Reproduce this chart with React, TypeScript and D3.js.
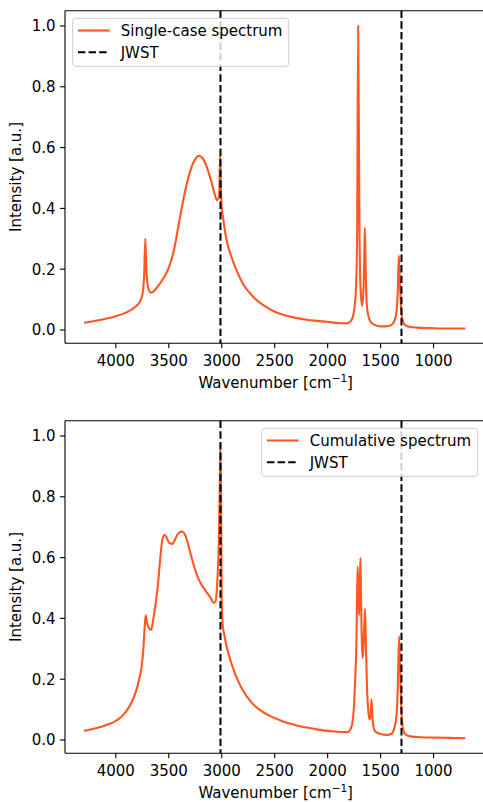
import React from 'react';
import * as d3 from 'd3';

// [wavenumber, intensity]
const singleSpectrum: [number, number][] = [
  [4300, 0.024], [4150, 0.033], [4000, 0.045], [3900, 0.058], [3820, 0.075], [3770, 0.095],
  [3745, 0.125], [3732, 0.185], [3722, 0.300], [3712, 0.200], [3695, 0.140], [3670, 0.123],
  [3640, 0.128], [3600, 0.145], [3550, 0.170], [3500, 0.205], [3450, 0.265], [3400, 0.360],
  [3350, 0.450], [3300, 0.520], [3250, 0.562], [3215, 0.573], [3180, 0.565], [3140, 0.535],
  [3100, 0.490], [3065, 0.445], [3045, 0.427], [3025, 0.440], [3015, 0.575], [3008, 0.470],
  [3000, 0.400], [2990, 0.375], [2960, 0.305], [2900, 0.232], [2850, 0.188], [2800, 0.152],
  [2700, 0.108], [2600, 0.080], [2500, 0.060], [2400, 0.048], [2300, 0.040], [2200, 0.034],
  [2100, 0.030], [2000, 0.027], [1900, 0.023], [1820, 0.022], [1780, 0.030], [1755, 0.055],
  [1735, 0.120], [1722, 0.300], [1712, 1.000], [1700, 0.350], [1690, 0.140], [1675, 0.080],
  [1665, 0.110], [1655, 0.220], [1649, 0.336], [1642, 0.220], [1632, 0.090], [1615, 0.045],
  [1590, 0.025], [1550, 0.016], [1500, 0.012], [1450, 0.012], [1400, 0.016], [1370, 0.030],
  [1350, 0.060], [1338, 0.130], [1328, 0.245], [1318, 0.160], [1305, 0.060], [1290, 0.030],
  [1270, 0.017], [1220, 0.010], [1150, 0.008], [1000, 0.006], [850, 0.005], [700, 0.005],
];

const cumulativeSpectrum: [number, number][] = [
  [4300, 0.030], [4200, 0.038], [4100, 0.048], [4000, 0.063], [3950, 0.076], [3900, 0.095],
  [3850, 0.125], [3810, 0.160], [3780, 0.200], [3755, 0.245], [3740, 0.300], [3728, 0.370],
  [3718, 0.410], [3705, 0.385], [3690, 0.370], [3668, 0.362], [3645, 0.400], [3620, 0.460],
  [3600, 0.520], [3580, 0.600], [3560, 0.660], [3540, 0.675], [3520, 0.665], [3495, 0.648],
  [3465, 0.645], [3440, 0.660], [3410, 0.680], [3375, 0.686], [3340, 0.670], [3300, 0.620],
  [3260, 0.570], [3220, 0.530], [3180, 0.505], [3140, 0.485], [3100, 0.465], [3078, 0.451],
  [3060, 0.455], [3042, 0.520], [3028, 0.650], [3018, 0.850], [3012, 0.975], [3006, 0.800],
  [3000, 0.450], [2990, 0.375], [2975, 0.345], [2962, 0.320], [2900, 0.243], [2850, 0.198],
  [2800, 0.163], [2730, 0.128], [2645, 0.100], [2550, 0.080], [2450, 0.065], [2360, 0.054],
  [2280, 0.047], [2200, 0.041], [2100, 0.035], [2000, 0.030], [1900, 0.027], [1810, 0.026],
  [1785, 0.035], [1765, 0.060], [1750, 0.120], [1740, 0.200], [1728, 0.330], [1718, 0.571],
  [1710, 0.480], [1703, 0.410], [1696, 0.520], [1690, 0.599], [1684, 0.450], [1675, 0.300],
  [1668, 0.270], [1658, 0.340], [1647, 0.431], [1638, 0.300], [1628, 0.170], [1615, 0.090],
  [1605, 0.068], [1595, 0.080], [1586, 0.134], [1578, 0.080], [1568, 0.045], [1550, 0.028],
  [1500, 0.020], [1440, 0.017], [1400, 0.020], [1370, 0.040], [1350, 0.080], [1338, 0.170],
  [1325, 0.341], [1315, 0.230], [1303, 0.090], [1290, 0.040], [1270, 0.020], [1220, 0.012],
  [1150, 0.010], [1000, 0.008], [850, 0.007], [700, 0.006],
];

const jwstLines = [3012, 1303];
const xTicks = [4000, 3500, 3000, 2500, 2000, 1500, 1000];
const yTicks = [0, 0.2, 0.4, 0.6, 0.8, 1.0];

const ORANGE = '#ff5722';
const FONT = 'DejaVu Sans, sans-serif';

function Panel({ data, top, label, legendLeft }: {
  data: [number, number][]; top: number; label: string; legendLeft: boolean;
}) {
  const left = 65;
  const right = 484.4;
  const bottom = top + 332.6;

  const x = d3.scaleLinear().domain([4480, 520]).range([left, right]);
  const y = d3.scaleLinear().domain([-0.0437, 1.0503]).range([bottom, top]);

  const line = d3.line<[number, number]>()
    .x(d => x(d[0]))
    .y(d => y(d[1]))
    .curve(d3.curveMonotoneX);

  const lx = legendLeft ? 72.7 : 261.7;
  const lw = 216;
  const ly = top + 7.6;

  return (
    <g fontFamily={FONT} fontSize={15} fill="#000">
      <path d={line(data) ?? ''} fill="none" stroke={ORANGE} strokeWidth={2.1} />
      {jwstLines.map(v => (
        <line key={v} x1={x(v)} x2={x(v)} y1={top} y2={bottom}
          stroke="#000" strokeWidth={2} strokeDasharray="7.4,3.2" />
      ))}
      {/* spines */}
      <line x1={left} x2={left} y1={top} y2={bottom} stroke="#000" strokeWidth={1.1} />
      <line x1={left} x2={right} y1={bottom} y2={bottom} stroke="#000" strokeWidth={1.1} />
      <line x1={left} x2={right} y1={top} y2={top} stroke="#000" strokeWidth={1.1} />
      <line x1={right} x2={right} y1={top} y2={bottom} stroke="#000" strokeWidth={1.1} />
      {xTicks.map(t => (
        <g key={t}>
          <line x1={x(t)} x2={x(t)} y1={bottom} y2={bottom + 5} stroke="#000" strokeWidth={1.1} />
          <text x={x(t)} y={bottom + 22.7} textAnchor="middle">{t}</text>
        </g>
      ))}
      {yTicks.map(t => (
        <g key={t}>
          <line x1={left - 5} x2={left} y1={y(t)} y2={y(t)} stroke="#000" strokeWidth={1.1} />
          <text x={left - 9.5} y={y(t) + 5.4} textAnchor="end">{t.toFixed(1)}</text>
        </g>
      ))}
      <text x={x(2500) + 1} y={bottom + 45} textAnchor="middle">
        Wavenumber [cm<tspan dy={-6} fontSize={10.5}>−1</tspan><tspan dy={6}>]</tspan>
      </text>
      <text transform={`translate(21,${(top + bottom) / 2}) rotate(-90)`} textAnchor="middle">
        Intensity [a.u.]
      </text>
      {/* legend */}
      <rect x={lx} y={ly} width={lw} height={48} rx={3} fill="#fff" fillOpacity={0.8}
        stroke="#cccccc" strokeWidth={1} />
      <line x1={lx + 5.3} x2={lx + 37} y1={ly + 12.2} y2={ly + 12.2} stroke={ORANGE} strokeWidth={2.1} />
      <text x={lx + 48} y={ly + 17.5}>{label}</text>
      <line x1={lx + 5.3} x2={lx + 37} y1={ly + 34} y2={ly + 34} stroke="#000" strokeWidth={2}
        strokeDasharray="7.4,3.2" />
      <text x={lx + 48} y={ly + 39.3}>JWST</text>
    </g>
  );
}

export default function App() {
  return (
    <svg width={483} height={802} style={{ position: 'absolute', left: 0, top: 0, background: '#fff' }}>
      <rect width={483} height={802} fill="#fff" />
      <Panel data={singleSpectrum} top={10.7} label="Single-case spectrum" legendLeft />
      <Panel data={cumulativeSpectrum} top={420.7} label="Cumulative spectrum" legendLeft={false} />
    </svg>
  );
}
